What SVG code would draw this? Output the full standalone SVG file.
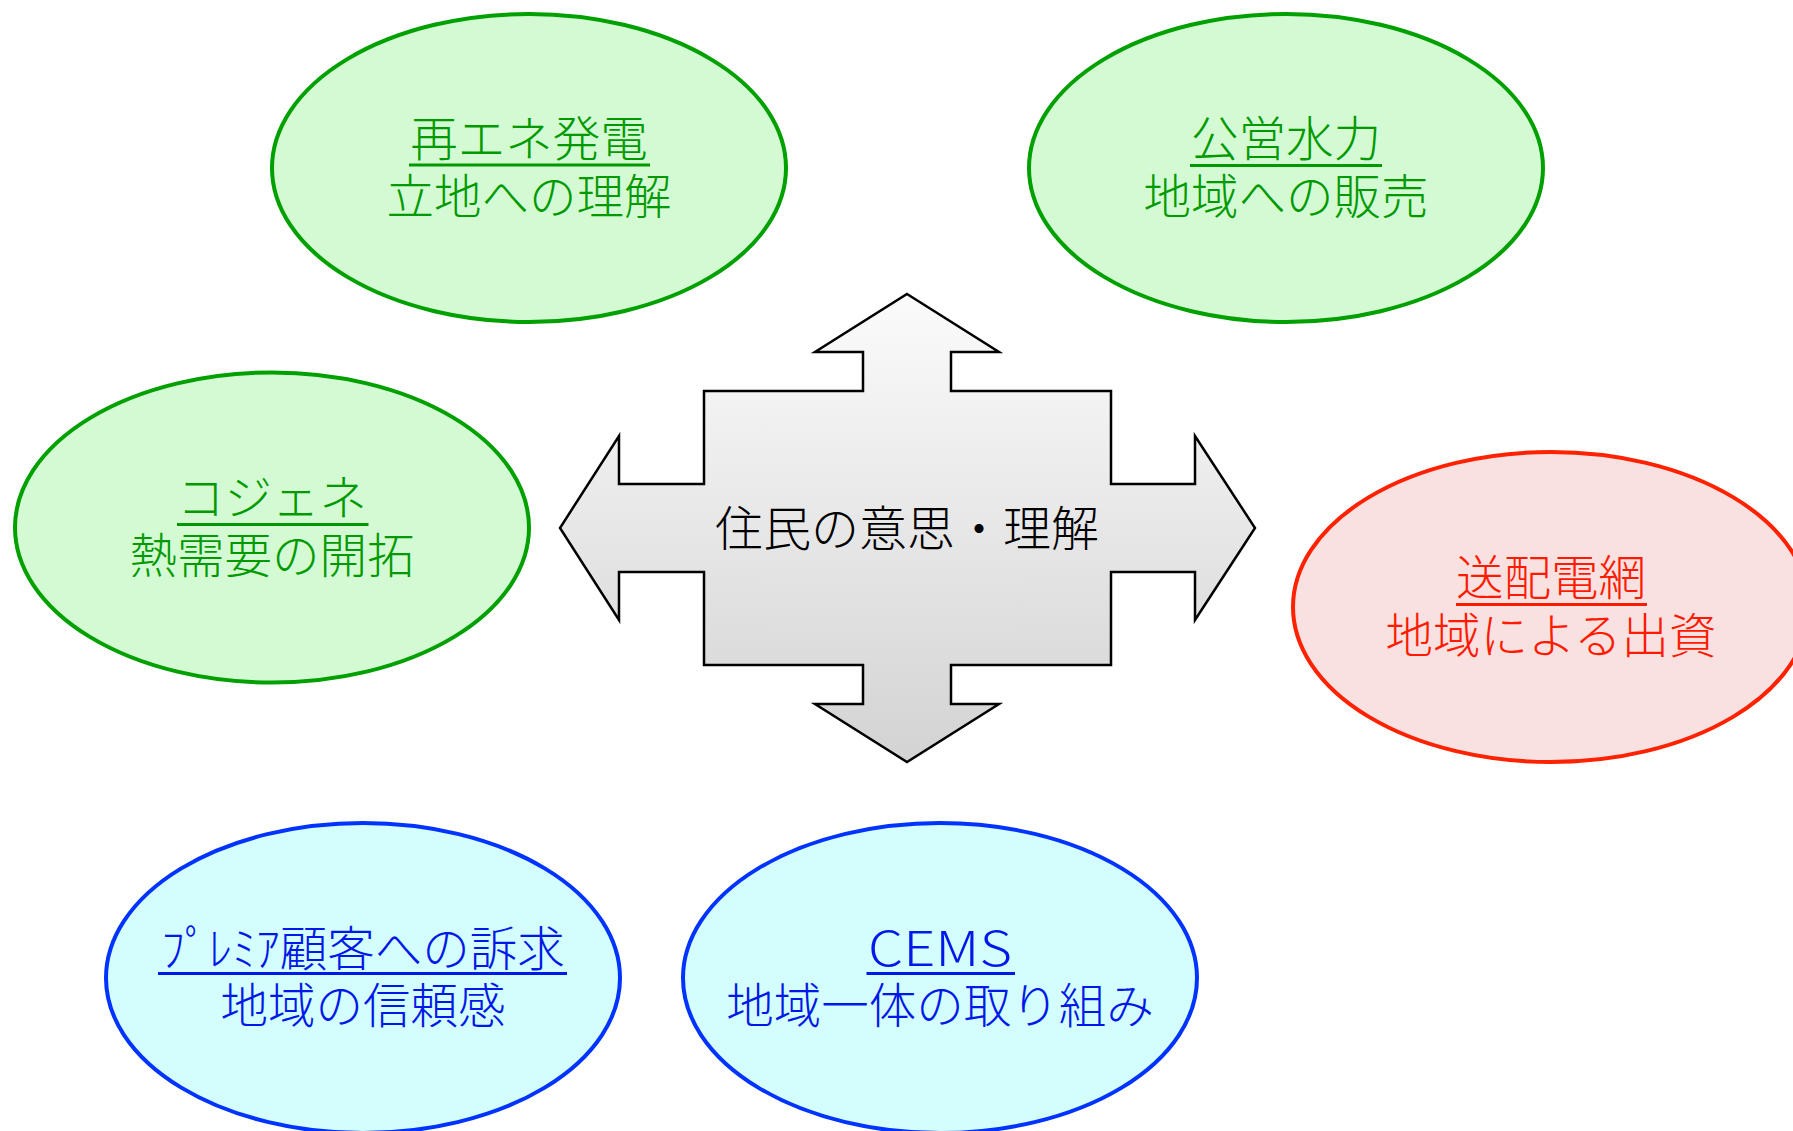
<svg xmlns="http://www.w3.org/2000/svg" width="1793" height="1131" viewBox="0 0 1793 1131">
<style>
text{font-family:"Noto Sans CJK JP","Liberation Sans",sans-serif;font-weight:300;text-anchor:middle;}
.t{font-size:47.5px;}
.g{fill:#009a00;}
.r{fill:#ff1a00;}
.b{fill:#0018e8;}
.eg{fill:#d4fad4;stroke:#00a000;stroke-width:4;}
.er{fill:#f9e1e1;stroke:#ff2200;stroke-width:4;}
.eb{fill:#d4fefe;stroke:#0033ff;stroke-width:4;}
.ug{stroke:#009a00;stroke-width:3;}
.ur{stroke:#ff1a00;stroke-width:3;}
.ub{stroke:#0018e8;stroke-width:3;}
</style>
<defs>
<linearGradient id="gr" x1="0" y1="0" x2="0" y2="1">
<stop offset="0" stop-color="#fbfbfb"/>
<stop offset="1" stop-color="#d3d3d3"/>
</linearGradient>
</defs>
<rect width="1793" height="1131" fill="#ffffff"/>
<g id="connectors"></g>
<g id="center">
<path d="M907,294 L999,352 L951,352 L951,391 L1111,391 L1111,484 L1195,484 L1195,436 L1255,528 L1195,620 L1195,572 L1111,572 L1111,665 L951,665 L951,704 L999,704 L907,762 L815,704 L863,704 L863,665 L704,665 L704,572 L619,572 L619,620 L560,528 L619,436 L619,484 L704,484 L704,391 L863,391 L863,352 L815,352 Z" fill="url(#gr)" stroke="#000" stroke-width="2.5"/>
<text x="907" y="546" style="font-size:48px" fill="#000">住民の意思・理解</text>
</g>
<g id="node-saiene">
<ellipse class="eg" cx="529" cy="168" rx="257" ry="154"/>
<text class="t g" x="529" y="156">再エネ発電</text>
<line class="ug" x1="409" y1="165" x2="650" y2="165"/>
<text class="t g" x="529" y="214">立地への理解</text>
</g>
<g id="node-koei">
<ellipse class="eg" cx="1286" cy="168" rx="257" ry="154"/>
<text class="t g" x="1286" y="156">公営水力</text>
<line class="ug" x1="1190" y1="165.5" x2="1382" y2="165.5"/>
<text class="t g" x="1286" y="214">地域への販売</text>
</g>
<g id="node-cogene">
<ellipse class="eg" cx="272" cy="527.5" rx="257" ry="155"/>
<text class="t g" x="272" y="514.5">コジェネ</text>
<line class="ug" x1="177" y1="524.5" x2="368.5" y2="524.5"/>
<text class="t g" x="272" y="572.5">熱需要の開拓</text>
</g>
<g id="node-soden">
<ellipse class="er" cx="1551" cy="607" rx="258" ry="155"/>
<text class="t r" x="1551" y="594.5">送配電網</text>
<line class="ur" x1="1456" y1="604.5" x2="1647" y2="604.5"/>
<text class="t r" x="1551" y="652.5">地域による出資</text>
</g>
<g id="node-premium">
<ellipse class="eb" cx="363" cy="978" rx="257" ry="155"/>
<text class="t b" x="363" y="965.5">ﾌﾟﾚﾐｱ顧客への訴求</text>
<line class="ub" x1="158" y1="973.5" x2="567" y2="973.5"/>
<text class="t b" x="363" y="1022.5">地域の信頼感</text>
</g>
<g id="node-cems">
<ellipse class="eb" cx="940" cy="978" rx="257" ry="155"/>
<text class="t b" x="940" y="965.5" textLength="144" lengthAdjust="spacingAndGlyphs">CEMS</text>
<line class="ub" x1="866.5" y1="973.5" x2="1015" y2="973.5"/>
<text class="t b" x="940" y="1022.5">地域一体の取り組み</text>
</g>
</svg>
